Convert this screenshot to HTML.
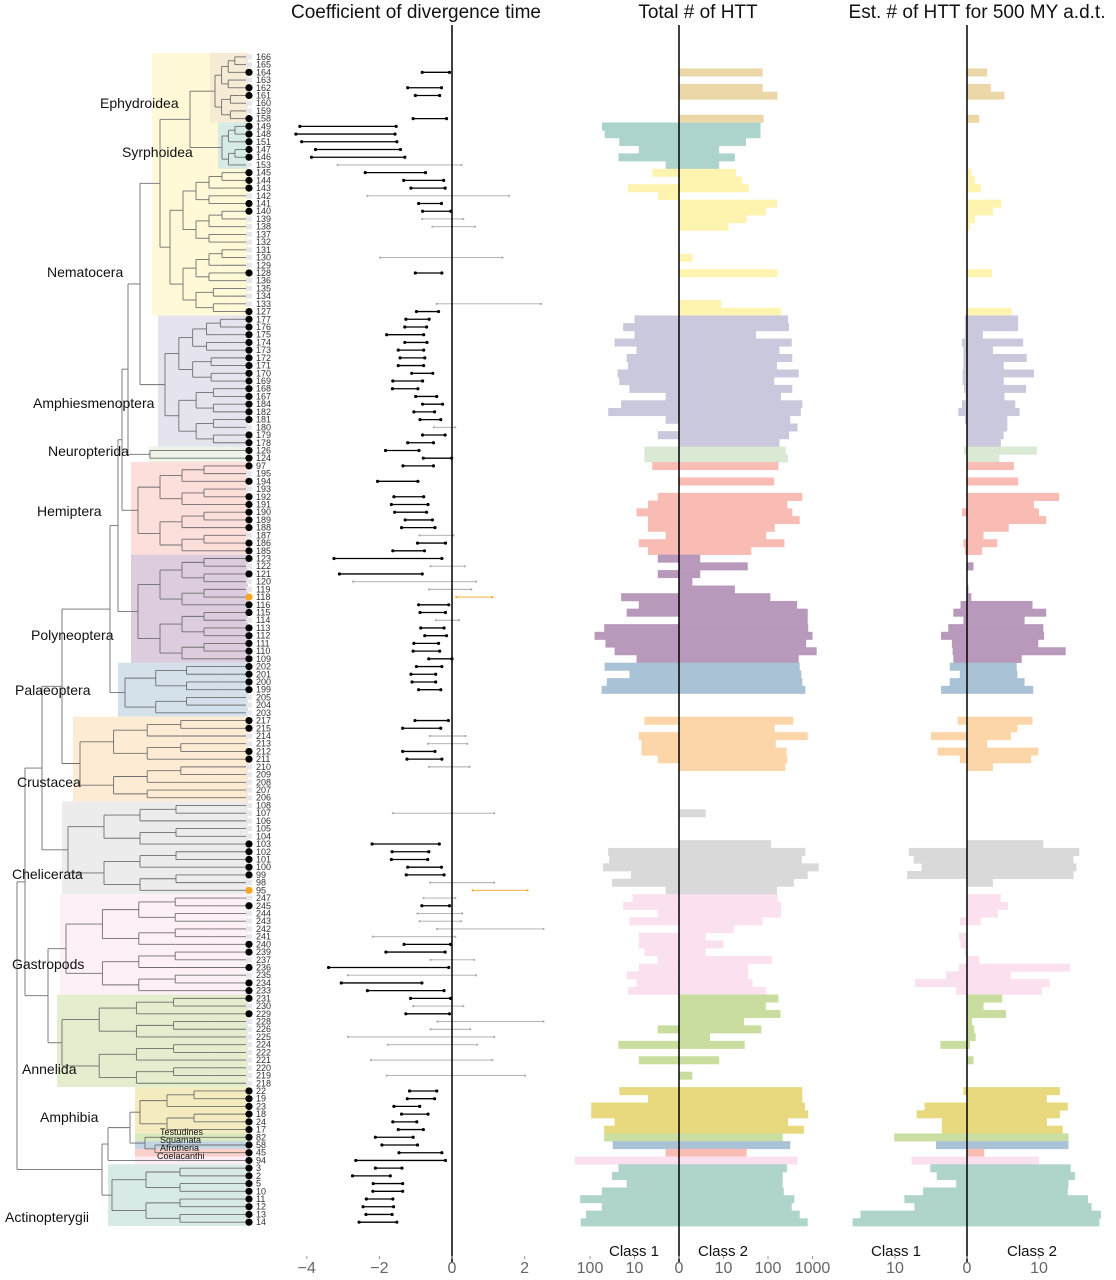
<!DOCTYPE html>
<html><head><meta charset="utf-8"><style>
html,body{margin:0;padding:0;background:#fff;}
svg{display:block;font-family:"Liberation Sans",sans-serif;}
</style></head><body>
<svg id="chart" width="1116" height="1280" viewBox="0 0 1116 1280" xmlns="http://www.w3.org/2000/svg">
<g id="bg"></g>
<g id="tree"></g>
<g id="tips"></g>
<g id="coef"></g>
<g id="total"></g>
<g id="est"></g>
<g id="axes"></g>
<text x="416" y="18" font-size="19" text-anchor="middle" fill="#111">Coefficient of divergence time</text>
<text x="698" y="18" font-size="19" text-anchor="middle" fill="#111">Total # of HTT</text>
<text x="977" y="18" font-size="19" text-anchor="middle" fill="#111">Est. # of HTT for 500 MY a.d.t.</text>
</svg>
<script>
const tipLabels = ["166","165","164","163","162","161","160","159","158","149","148","151","147","146","153","145","144","143","142","141","140","139","138","137","132","131","130","129","128","136","135","134","133","127","177","176","175","174","173","172","171","170","169","168","167","184","182","181","180","179","178","126","124","97","195","194","193","192","191","190","189","188","187","186","185","123","122","121","120","119","118","116","115","114","113","112","111","110","109","202","201","200","199","205","204","203","217","215","214","213","212","211","210","209","208","207","206","108","107","106","105","104","103","102","101","100","99","98","95","247","245","244","243","242","241","240","239","237","236","235","234","233","231","230","229","228","226","225","224","222","221","220","219","218","22","19","23","18","24","17","82","58","45","94","3","2","5","10","11","12","13","14"];
const groupNames = ["Ephydroidea","Syrphoidea","Nematocera","Amphiesmenoptera","Neuropterida","Hemiptera","Polyneoptera","Palaeoptera","Crustacea","Chelicerata","Gastropods","Annelida","Amphibia","Testudines","Squamata","Afrotheria","Coelacanthi","Actinopterygii"];
const groupSizes = [9,6,19,17,2,12,14,7,11,12,13,12,6,1,1,1,1,8];
const groupColors = ["#ecd7a8","#acd4cc","#fff3b0","#cac8dc","#d9e9d3","#f8bcb5","#b899bb","#a9c2d6","#fcd6a8","#d9d9d9","#fbe1ef","#c9dd9e","#e8d97e","#c9dea0","#a9c2d6","#f8bcb5","#fbe1ef","#aed4cb"];
const coefLo = [null,null,-0.82,null,-1.22,-1.01,null,null,-1.07,-4.19,-4.30,-4.14,-3.76,-3.87,-3.15,-2.39,-1.33,-1.13,-2.33,-0.92,-0.81,-0.82,-0.54,null,null,null,-1.98,null,-1.01,null,null,null,-0.42,-0.98,-1.27,-1.30,-1.80,-1.30,-1.48,-1.43,-1.48,-1.11,-1.63,-1.64,-1.00,-0.81,-1.05,-0.88,-0.50,-0.81,-1.22,-1.83,-0.79,-1.35,null,-2.05,null,-1.60,-1.67,-1.58,-1.29,-1.39,-0.89,-0.95,-1.63,-3.25,-0.59,-3.10,-2.72,-0.63,0.12,-0.92,-0.88,-0.44,-0.86,-0.75,-1.05,-1.07,-0.64,-0.98,-1.13,-1.10,-0.92,null,null,null,-1.02,-1.36,-0.61,-0.66,-1.36,-1.24,-0.63,null,null,null,null,null,-1.63,null,null,null,-2.20,-1.65,-1.67,-1.22,-1.26,-0.60,0.57,-0.78,-0.83,-0.95,-0.89,-0.41,-2.18,-1.32,-1.82,-0.59,-3.40,-2.87,-3.05,-2.33,-1.14,-1.07,-1.27,-0.40,-0.59,-2.86,-1.77,null,-2.23,null,-1.80,null,-1.17,-1.23,-1.60,-1.39,-1.63,-1.48,-2.11,-1.93,-1.46,-2.65,-2.11,-2.74,-2.17,-2.18,-2.36,-2.45,-2.37,-2.56];
const coefHi = [null,null,-0.07,null,-0.29,-0.34,null,null,-0.15,-1.54,-1.57,-1.52,-1.42,-1.30,0.26,-0.73,-0.23,-0.19,1.57,-0.29,-0.03,0.31,0.63,null,null,null,1.39,null,-0.28,null,null,null,2.45,-0.37,-0.63,-0.70,-0.78,-0.69,-0.78,-0.75,-0.78,-0.53,-0.81,-0.94,-0.42,-0.26,-0.48,-0.31,0.09,-0.19,-0.51,-0.91,-0.01,-0.51,null,-0.94,null,-0.78,-0.66,-0.70,-0.54,-0.47,0.04,-0.18,-0.76,-0.28,0.35,-0.82,0.66,0.53,1.11,-0.09,-0.18,0.19,-0.22,-0.15,-0.37,-0.34,0.00,-0.28,-0.45,-0.45,-0.31,null,null,null,-0.10,-0.31,0.37,0.42,-0.47,-0.28,0.48,null,null,null,null,null,1.16,null,null,null,-0.35,-0.64,-0.67,-0.29,-0.22,1.16,2.08,0.09,-0.07,0.28,0.25,2.52,0.09,-0.04,-0.19,0.61,-0.09,0.66,-0.83,-0.22,-0.04,0.31,-0.07,2.52,0.50,1.16,0.69,null,1.11,null,2.01,null,-0.42,-0.48,-0.89,-0.66,-0.97,-0.79,-1.07,-0.95,-0.28,-0.18,-1.38,-1.70,-1.36,-1.36,-1.63,-1.61,-1.65,-1.52];
const coefType = ("--b-bb--b"+"bbbbbg"+"bbbgbbgg---g-b---gb"+"bbbbbbbbbbbbbbgbb"+"bbb-b-bbbbbgbb"+"bgbggobbg"+"bbbbbbbbb"+"---bbggbbg-----g---"+"bbbbbgogbggggbbgbgbbbgbgggg-g-g-"+"bbbbbbbbbbbbbbbbbb").split("");
const total1 = [0,0,0,0,0,0,0,0,0,53,46,21,7,22,1,3,0,13,2,0,0,0,0,0,0,0,0,0,0,0,0,0,0,0,9,17,9,27,8,14,13,23,21,12,1,19,38,1,0,2,0,5,5,3,0,0,0,2,4,8,4,4,1,7,4,2,0,2,0,0,19,7,14,0,47,78,44,27,8,46,12,41,54,0,0,0,5,0,7,6,6,2,0,0,0,0,0,0,0,0,0,0,0,38,36,50,11,31,1,10,17,2,12,0,7,7,5,2,7,14,8,13,0,0,0,0,2,0,22,0,7,0,0,0,21,4,93,93,27,47,47,30,1,218,22,31,14,53,165,53,122,161];
const total2 = [0,0,75,0,75,162,0,0,79,67,67,31,7,17,7,18,25,36,0,158,88,32,12,0,0,0,1,0,162,0,0,0,8,195,281,295,53,340,180,350,158,490,137,350,195,590,545,315,460,295,180,250,281,170,0,137,0,590,272,350,515,141,90,233,41,2,34,2,1,17,112,450,780,780,800,1000,720,1240,490,515,560,590,690,0,0,0,370,141,780,148,260,272,245,0,0,0,0,0,3,0,0,0,116,690,575,1380,780,380,158,165,195,195,75,16,3,9,3,122,35,35,44,88,170,88,190,28,70,4,29,0,7,0,1,0,590,590,675,800,281,640,213,315,32,460,265,213,213,225,390,340,515,780];
const est1 = [0,0,0,0,0,0,0,0,0,0,0,0,0,0,0,0,0,0,0,0,0,0,0,0,0,0,0,0,0,0,0,0,0,0,0.3,0.3,0.3,0.7,0.5,0.5,0.5,0.6,0.6,0.4,0.2,0.7,1.2,0.3,0,0,0,0.4,0,0,0,0,0,0,0,0.7,0,0,0,0.5,0.3,0,0,0,0,0,0,0.9,1.9,0.5,2.6,3.6,2.1,2.0,1.9,2.4,1.0,2.4,3.6,0,0,0,1.3,0,5.0,0,4.1,1.0,0,0,0,0,0,0,0,0,0,0,0,8.1,7.4,6.3,8.3,0,0,0,0,0.1,1.0,0,1.1,0.9,0.3,0,1.1,2.9,7.2,1.5,0,0,0,0,0,0,3.7,0,0,0,0,0,0.5,0,5.9,7.0,3.5,3.5,10.1,4.3,0,7.7,5.1,4.2,1.5,6.1,8.7,7.3,14.8,15.9];
const est2 = [0,0,2.8,0,3.3,5.2,0,0,1.7,0.1,0.1,0.1,0.1,0.1,0.1,0.6,1.1,1.9,0,4.8,3.6,1.1,0.4,0,0,0,0,0,3.5,0,0,0,0,6.2,7.1,7.1,2.2,7.8,3.6,8.3,5.1,9.3,5.1,8.2,5.2,6.7,7.3,5.6,5.6,5.1,4.7,9.7,4.5,6.5,0,7.1,0,12.8,9.3,10.0,11.0,5.8,2.3,4.2,2.1,0,0.9,0,0,0.2,0.6,9.1,11.0,8.0,10.6,10.7,9.9,13.7,7.6,6.9,7.0,8.0,9.2,0,0,0,9.1,7.0,6.1,2.8,9.9,8.9,3.6,0,0,0,0,0,0,0,0,0,10.6,15.6,14.8,15.2,14.8,3.6,0,4.7,5.7,4.3,1.9,0,0,0,0,1.7,14.3,6.1,11.5,10.4,4.9,2.3,5.4,0.7,1.0,1.2,0.4,0,0.9,0,0,0,12.9,11.1,14.0,12.9,11.1,13.3,14.1,14.1,2.4,10.0,14.4,15.0,14.1,14.0,16.8,17.3,18.6,18.4];

const NS="http://www.w3.org/2000/svg";
function mk(tag, attrs, parent){const e=document.createElementNS(NS,tag);for(const k in attrs)e.setAttribute(k,attrs[k]);parent.appendChild(e);return e;}
const Y0=56.9, STEP=7.717;
const yRow = i => Y0 + i*STEP;
const xCoef = v => 452 + v*36.3;
const xTot = v => 44.5*Math.log10(1+v);
const xEst = v => v*7.2;
const rowGroup=[];groupSizes.forEach((n,g)=>{for(let k=0;k<n;k++)rowGroup.push(g);});
const groupStart=[];{let s=0;groupSizes.forEach(n=>{groupStart.push(s);s+=n;});}
function light(hex,a){const r=parseInt(hex.slice(1,3),16),g=parseInt(hex.slice(3,5),16),b=parseInt(hex.slice(5,7),16);const m=c=>Math.round(255-(255-c)*a);return `rgb(${m(r)},${m(g)},${m(b)})`;}

const bg=document.getElementById('bg');
const bgX=[210,218,152,158,148,131,131,118,73,62,60,57,135,135,135,135,135,108];
const bgOrder=[2,0,1,3,4,5,6,7,8,9,10,11,12,13,14,15,16,17];
bgOrder.forEach(g=>{
  let top=yRow(groupStart[g])-STEP/2, bot=yRow(groupStart[g]+groupSizes[g]-1)+STEP/2;
  if(g===2){top=yRow(0)-STEP/2;}
  const r=mk('rect',{x:bgX[g],y:top,width:248-bgX[g],height:bot-top,fill:light(groupColors[g],g>=13&&g<=16?0.7:0.5)},bg);
  
  
});

const tree=document.getElementById('tree');
function line(x1,y1,x2,y2){const l=mk('line',{x1,y1,x2,y2,stroke:'#6f6f6f','stroke-width':0.9},tree);}
function clade(lo,hi,x0){
  if(lo===hi){line(x0,yRow(lo),248,yRow(lo));return yRow(lo);}
  const n=hi-lo+1, depth=Math.ceil(Math.log2(n))+1, st=(248-x0)/depth;
  const mid=lo+Math.floor((n-1)/2);
  const xa=x0+st;
  const ya=clade(lo,mid,xa), yb=clade(mid+1,hi,xa);
  line(x0,ya,xa,ya);line(x0,yb,xa,yb);line(x0,ya,x0,yb);
  return (ya+yb)/2;
}
function node(lo,hi,x){return {y:clade(lo,hi,x),x:x};}
function join(a,b,x){line(x,a.y,a.x,a.y);line(x,b.y,b.x,b.y);line(x,a.y,x,b.y);return {y:(a.y+b.y)/2,x:x};}
const gr=g=>[groupStart[g],groupStart[g]+groupSizes[g]-1];
let dip=join(join(node(...gr(0),215),node(...gr(1),222),190),node(...gr(2),170),160);
let ins=join(dip,node(...gr(3),165),140);
ins=join(ins,node(...gr(4),150),128);
ins=join(ins,node(...gr(5),138),122);
ins=join(ins,node(...gr(6),138),118);
ins=join(ins,node(...gr(7),125),110);
let art=join(ins,node(...gr(8),80),62);
art=join(art,node(...gr(9),68),42);
let lop=join(node(...gr(10),66),node(...gr(11),62),48);
let inv=join(art,lop,25);
let tet=join(join(node(141,141,160),node(142,142,160),155),node(140,140,155),145);
tet=join(node(...gr(12),140),tet,130);
tet=join(tet,node(143,143,160),108);
let vert=join(tet,node(...gr(17),112),102);
join(inv,vert,17);

const tips=document.getElementById('tips');
tipLabels.forEach((lab,i)=>{
  const y=yRow(i);
  const t=mk('text',{x:256,y:y+3,'font-size':9,fill:'#333'},tips);t.textContent=lab;
  
  const ty=coefType[i];
  if(ty==='b'||ty==='o'){
    const c=mk('circle',{cx:249,cy:y,r:3.6,fill:ty==='o'?'#f5a623':'#000'},tips);
    
  } else {
    const r=mk('rect',{x:246,y:y-2.5,width:6,height:5,fill:'#e6e6ea'},tips);
    
  }
});

const glab=[["Ephydroidea",100,108,14],["Syrphoidea",122,157,14],["Nematocera",47,277,14],["Amphiesmenoptera",33,408,14],["Neuropterida",48,456,14],["Hemiptera",37,516,14],["Polyneoptera",31,640,14],["Palaeoptera",15,695,14],["Crustacea",17,787,14],["Chelicerata",12,879,14],["Gastropods",12,969,14],["Annelida",22,1074,14],["Amphibia",40,1122,14],["Testudines",160,1135,9],["Squamata",160,1143,9],["Afrotheria",160,1151,9],["Coelacanthi",157,1159,9],["Actinopterygii",5,1222,14]];
glab.forEach(([s,x,y,f])=>{const t=mk('text',{x,y,'font-size':f,fill:'#111'},tree);t.textContent=s;});

const coef=document.getElementById('coef');
const tcol={b:'#000',g:'#aaaaaa',o:'#f5a623'};
for(let i=0;i<coefLo.length;i++){
  if(coefLo[i]===null)continue;
  const c=tcol[coefType[i]]||'#aaaaaa', y=yRow(i), w=coefType[i]==='b'?1.3:0.9;
  const l=mk('line',{x1:xCoef(coefLo[i]),y1:y,x2:xCoef(coefHi[i]),y2:y,stroke:c,'stroke-width':w},coef);
  
  [coefLo[i],coefHi[i]].forEach(v=>{const d=mk('circle',{cx:xCoef(v),cy:y,r:coefType[i]==='b'?1.6:1.1,fill:c},coef);});
}
function bars(parent,cx,v1,v2,fx,name){
  for(let i=0;i<v1.length;i++){
    const col=groupColors[rowGroup[i]], y=yRow(i)-STEP/2;
    if(v1[i]>0){const w=fx(v1[i]);const r=mk('rect',{x:cx-w,y:y,width:w,height:STEP+0.3,fill:col},parent);}
    if(v2[i]>0){const w=fx(v2[i]);const r=mk('rect',{x:cx,y:y,width:w,height:STEP+0.3,fill:col},parent);}
  }
}
bars(document.getElementById('total'),679,total1,total2,xTot,'total');
bars(document.getElementById('est'),967,est1,est2,xEst,'est');

const axes=document.getElementById('axes');
[452,679,967].forEach(x=>{const l=mk('line',{x1:x,y1:25,x2:x,y2:1262,stroke:'#000','stroke-width':1.5},axes);});
const coefTicks=[-4,-2,0,2];
const totTicks=[["100",-100],["10",-10],["0",0],["10",10],["100",100],["1000",1000]];
const estTicks=[["10",-10],["0",0],["10",10]];
function tick(x,s,name){const t=mk('text',{x:x,y:1273,'font-size':16,fill:'#666','text-anchor':'middle'},axes);t.textContent=s;
  const m=mk('line',{x1:x,y1:1256,x2:x,y2:1259,stroke:'#999','stroke-width':1},axes);}
coefTicks.forEach(v=>tick(xCoef(v),v<0?'\u2212'+(-v):String(v),'coef-tick-label'));
totTicks.forEach(([s,v])=>tick(679+Math.sign(v)*xTot(Math.abs(v)-(Math.abs(v)>0?1:0)),s,'total-tick-label'));
estTicks.forEach(([s,v])=>tick(967+xEst(v),s,'est-tick-label'));
[["Class 1",634],["Class 2",723],["Class 1",896],["Class 2",1032]].forEach(([s,x])=>{const t=mk('text',{x:x,y:1256,'font-size':15,fill:'#111','text-anchor':'middle'},axes);t.textContent=s;});
</script>
</body></html>
